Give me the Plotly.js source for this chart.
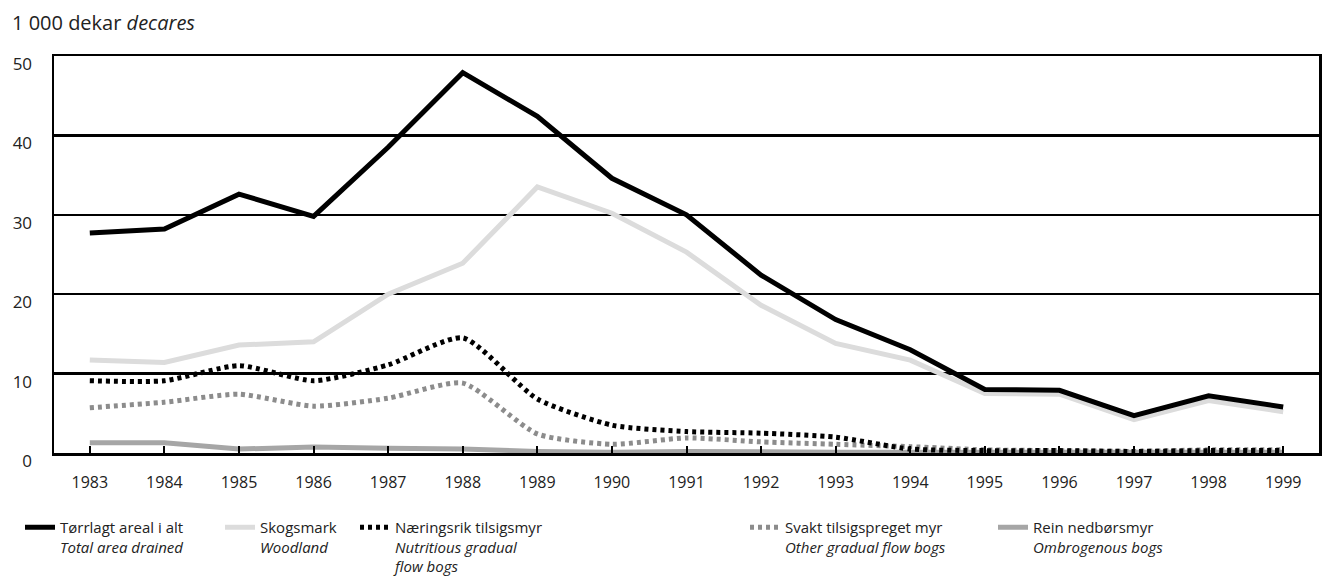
<!DOCTYPE html>
<html>
<head>
<meta charset="utf-8">
<script src="https://cdn.plot.ly/plotly-3.0.1.min.js"></script>
<style>
  html, body { margin: 0; padding: 0; background: #fff; }
  #chart { width: 1334px; height: 578px; }
</style>
</head>
<body>
<div id="chart"></div>
<script>
// Drained bog area, 1 000 decares
const years = [1983, 1984, 1985, 1986, 1987, 1988, 1989, 1990, 1991, 1992, 1993, 1994, 1995, 1996, 1997, 1998, 1999];

const totalDrained = [27.7, 28.2, 32.6, 29.8, 38.5, 47.9, 42.4, 34.6, 30.0, 22.4, 16.8, 13.0, 8.0, 7.9, 4.7, 7.2, 5.8];
const woodland     = [11.7, 11.4, 13.6, 14.0, 20.0, 23.9, 33.5, 30.2, 25.3, 18.6, 13.8, 11.7, 7.5, 7.4, 4.2, 6.6, 5.2];
const nutritious   = [9.1, 9.1, 11.0, 9.1, 11.1, 14.5, 6.8, 3.5, 2.7, 2.5, 2.0, 0.5, 0.3, 0.3, 0.2, 0.3, 0.3];
const otherGradual = [5.7, 6.4, 7.4, 5.9, 6.9, 8.8, 2.4, 1.1, 1.9, 1.4, 1.1, 0.8, 0.4, 0.3, 0.2, 0.4, 0.4];
const ombrogenous  = [1.3, 1.3, 0.5, 0.75, 0.6, 0.5, 0.2, 0.1, 0.2, 0.1, 0.1, 0.1, 0.1, 0.1, 0.1, 0.1, 0.1];

const names = [
  "Tørrlagt areal i alt<br><i>Total area drained</i>",
  "Skogsmark<br><i>Woodland</i>",
  "Næringsrik tilsigsmyr<br><i>Nutritious gradual<br>flow bogs</i>",
  "Svakt tilsigspreget myr<br><i>Other gradual flow bogs</i>",
  "Rein nedbørsmyr<br><i>Ombrogenous bogs</i>"
];

const FONT = "'Open Sans', 'Noto Sans', sans-serif";

// plot box in pixels: left 54, right 1319, top 56, bottom 453
const W = 1334, H = 578;
const mL = 54, mR = W - 1319, mT = 56, mB = H - 453;
const pw = W - mL - mR, ph = H - mT - mB;
const px = x => (x - mL) / pw;
const py = y => (H - mB - y) / ph;

function legendAt(textLeft) {
  return {
    x: px(textLeft - 40), y: py(511),
    xanchor: "left", yanchor: "top",
    bgcolor: "rgba(0,0,0,0)",
    borderwidth: 0,
    valign: "top",
    font: { family: FONT, size: 15, color: "#222" }
  };
}

const traces = [
  {
    x: years, y: ombrogenous, name: names[4], legend: "legend5",
    type: "scatter", mode: "lines",
    line: { color: "#a6a6a6", width: 5 }
  },
  {
    x: years, y: otherGradual, name: names[3], legend: "legend4",
    type: "scatter", mode: "lines",
    line: { color: "#8c8c8c", width: 5, dash: "4px,4px", shape: "spline", smoothing: 0.6 }
  },
  {
    x: years, y: woodland, name: names[1], legend: "legend2",
    type: "scatter", mode: "lines",
    line: { color: "#dcdcdc", width: 5 }
  },
  {
    x: years, y: nutritious, name: names[2], legend: "legend3",
    type: "scatter", mode: "lines",
    line: { color: "#000", width: 5, dash: "4px,4px", shape: "spline", smoothing: 0.6 }
  },
  {
    x: years, y: totalDrained, name: names[0], legend: "legend",
    type: "scatter", mode: "lines",
    line: { color: "#000", width: 5 }
  }
];

const layout = {
  width: W, height: H,
  margin: { l: mL, r: mR, t: mT, b: mB, autoexpand: false },
  paper_bgcolor: "#fff",
  plot_bgcolor: "#fff",
  font: { family: FONT, size: 16, color: "#222" },
  title: {
    text: "1 000 dekar <i>decares</i>",
    x: 12 / W, xref: "container", xanchor: "left",
    y: 1 - 23 / H, yref: "container", yanchor: "middle",
    font: { family: FONT, size: 20, color: "#222" }
  },
  xaxis: {
    range: [1982.52, 1999.48],
    tickmode: "array", tickvals: years, ticktext: years.map(String),
    ticks: "inside", ticklen: 7, tickwidth: 2, tickcolor: "#000",
    showgrid: false, zeroline: false,
    showline: true, linecolor: "#000", linewidth: 2.5, mirror: true,
    ticklabelstandoff: 13,
    tickfont: { family: FONT, size: 16, color: "#222" },
    fixedrange: true
  },
  yaxis: {
    range: [0, 50],
    tickvals: [0, 10, 20, 30, 40, 50],
    showgrid: true, gridcolor: "#000", gridwidth: 2.5,
    zeroline: false,
    showline: true, linecolor: "#000", linewidth: 2.5, mirror: true,
    ticks: "", ticklabelstandoff: 16, ticklabelshift: 8,
    tickfont: { family: FONT, size: 17, color: "#222" },
    fixedrange: true
  },
  showlegend: true,
  legend: legendAt(60),
  legend2: legendAt(260),
  legend3: legendAt(395),
  legend4: legendAt(785),
  legend5: legendAt(1033)
};

Plotly.newPlot("chart", traces, layout, { displayModeBar: false, staticPlot: true });
</script>
</body>
</html>
